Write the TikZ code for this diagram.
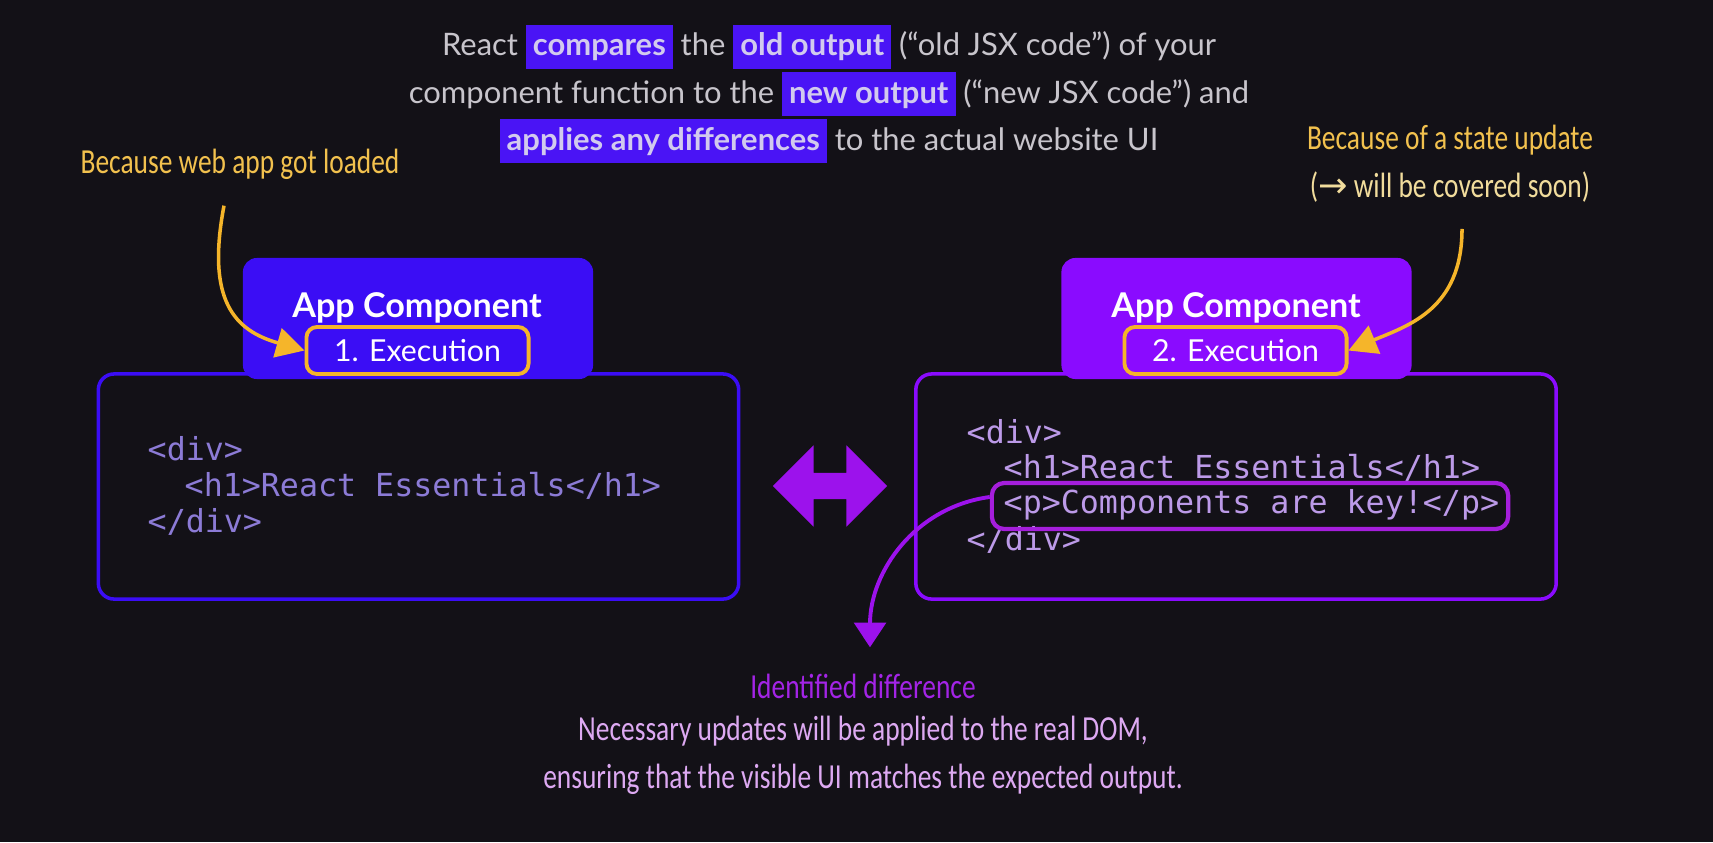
\documentclass[tikz,border=0pt]{standalone}
\usepackage{fontspec}
\setmainfont{Lato}
\setmonofont{DejaVu Sans Mono}
\newfontfamily\handfont[FakeStretch=0.78]{Carlito}
\newfontfamily\symfont{DejaVu Sans}
\usetikzlibrary{arrows.meta, positioning, calc, shapes.arrows}
\definecolor{bgdark}{HTML}{131117}
\definecolor{introgray}{HTML}{C8C5CC}
\definecolor{hlblue}{HTML}{4A14F5}
\definecolor{hltext}{HTML}{D2CAEE}
\definecolor{orangeA}{HTML}{F5B52A}
\definecolor{orangetext}{HTML}{F2C14E}
\definecolor{creamtext}{HTML}{F1DC9C}
\definecolor{oldblue}{HTML}{3B0DF5}
\definecolor{newpurple}{HTML}{8A0BFF}
\definecolor{codeold}{HTML}{8C7BD6}
\definecolor{codenew}{HTML}{BC9AE8}
\definecolor{diffline}{HTML}{A51EDC}
\definecolor{arrpurple}{HTML}{9C12EC}
\definecolor{identpurple}{HTML}{A324E6}
\definecolor{notepink}{HTML}{DDA9F2}
\newcommand{\hlword}[1]{{\setlength{\fboxsep}{2pt}\colorbox{hlblue}{\bfseries\color{hltext}\vphantom{(g}#1}}}

\begin{document}
\begin{tikzpicture}[x=0.01cm, y=-0.01cm,
    intro/.style={font=\fontsize{8.8}{11}\selectfont, text=introgray, align=center},
    header/.style={rectangle, rounded corners=4pt, minimum width=3.5cm, minimum height=1.21cm, inner sep=0pt},
    codebox/.style={rectangle, rounded corners=4.5pt, line width=1pt, minimum width=6.4cm, minimum height=2.25cm},
    execbox/.style={rectangle, rounded corners=3pt, draw=orangeA, line width=1.1pt, minimum width=2.22cm, minimum height=0.47cm, font=\fontsize{8.6}{10}\selectfont, text=white},
    title/.style={font=\fontsize{9.7}{12}\selectfont\bfseries, text=white},
    code/.style={font=\ttfamily\fontsize{9}{10}\selectfont, anchor=west, inner sep=0pt},
    hand/.style={font=\handfont\fontsize{10}{13.6}\selectfont, align=center},
    arrO/.style={draw=orangeA, line width=1pt, -{Triangle[length=8pt, width=8.5pt]}},
    arrP/.style={draw=arrpurple, line width=1.1pt, -{Triangle[length=7pt, width=9pt]}}
  ]
  \useasboundingbox (0,0) rectangle (1713,842);
  \fill[bgdark] (0,0) rectangle (1713,842);

  % Intro text
  \node[intro] (intro) at (829,94) {React \hlword{compares} the \hlword{old output} (“old JSX code”) of your\\component function to the \hlword{new output} (“new JSX code”) and\\\hlword{applies any differences} to the actual website UI};

  % First execution
  \node[codebox, draw=oldblue] (oldcode) at (418.5,486.5) {};
  \node[header, fill=oldblue] (oldhead) at (418,318.5) {};
  \node[title] (oldtitle) at (417,308) {App Component};
  \node[execbox, fill=oldblue] (exec1) at (417.5,350.5) {1. Execution};
  \node[code, text=codeold] (l1) at (147,449) {<div>};
  \node[code, text=codeold] (l2) at (184,486) {<h1>React Essentials</h1>};
  \node[code, text=codeold] (l3) at (147,522) {</div>};

  % Second execution
  \node[codebox, draw=newpurple] (newcode) at (1236,486.5) {};
  \node[header, fill=newpurple] (newhead) at (1236.5,318.5) {};
  \node[title] (newtitle) at (1236,308) {App Component};
  \node[execbox, fill=newpurple] (exec2) at (1235.5,350.5) {2. Execution};
  \node[code, text=codenew] (r1) at (966,432) {<div>};
  \node[code, text=codenew] (r2) at (1003,468) {<h1>React Essentials</h1>};
  \node[code, text=codenew] (r3) at (1003,505) {<p>Components are key!</p>};
  \node[code, text=codenew] (r4) at (966,540) {</div>};
  \node[rectangle, rounded corners=3.5pt, draw=diffline, line width=1.2pt, minimum width=5.16cm, minimum height=0.46cm] (hlbox) at (1250,506) {};

  % Compare
  \node[double arrow, fill=arrpurple, minimum height=1.14cm, minimum width=0.8cm, double arrow head extend=0.275cm, inner xsep=0pt, inner ysep=0.125cm] (cmp) at (830,486) {};

  % Reasons
  \node[hand, text=orangetext] (webload) at (240,164) {Because web app got loaded};
  \node[hand, text=orangetext] (stateupd) at (1450,164) {Because of a state update\\\color{creamtext}({\symfont →} will be covered soon)};
  \draw[arrO] ([shift={(-16,14)}]webload.south) .. controls +(-18,95) and +(-70,-20) .. (exec1.west);
  \draw[arrO] ([shift={(12,14)}]stateupd.south) .. controls +(0,80) and +(60,-25) .. (exec2.east);

  % Difference
  \node[hand, text=identpurple] (ident) at (863,686) {Identified difference};
  \node[hand, text=notepink] (note) at (863,755) {Necessary updates will be applied to the real DOM,\\ensuring that the visible UI matches the expected output.};
  \draw[arrP] ([shift={(0,-9)}]hlbox.west) .. controls +(-75,10) and +(0,-75) .. ([shift={(7,-14)}]ident.north);
\end{tikzpicture}
\end{document}
